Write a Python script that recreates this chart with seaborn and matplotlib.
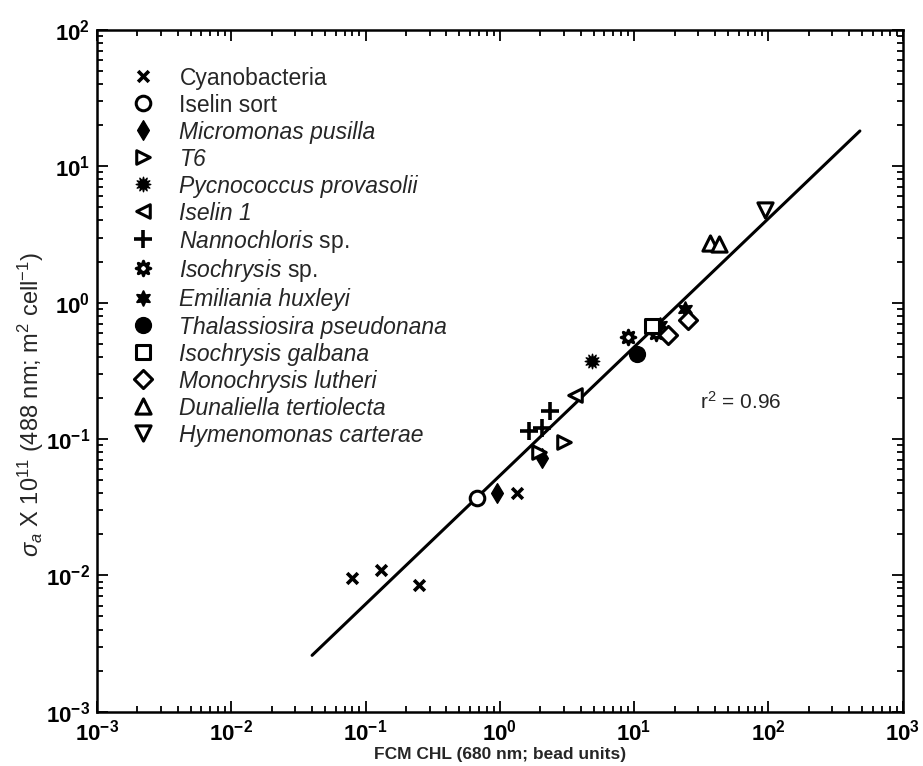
import numpy as np
import matplotlib
matplotlib.use("Agg")
import matplotlib.pyplot as plt
import matplotlib.ticker as mticker
import seaborn as sns

# ---- data ----
legend_labels = ["Cyanobacteria", "Iselin sort", "Micromonas pusilla", "T6",
                 "Pycnococcus provasolii", "Iselin 1",
                 r"$\mathit{Nannochloris}$ sp.", r"$\mathit{Isochrysis}$ sp.",
                 "Emiliania huxleyi", "Thalassiosira pseudonana",
                 "Isochrysis galbana", "Monochrysis lutheri",
                 "Dunaliella tertiolecta", "Hymenomonas carterae"]
italic_full = [False, False, True, True, True, True, False, False,
               True, True, True, True, True, True]

cyano_x = [0.08, 0.13, 0.25, 1.35]
cyano_y = [0.0095, 0.011, 0.0085, 0.040]
iselin_sort_x = [0.68]
iselin_sort_y = [0.037]
micromonas_x = [0.95, 2.05]
micromonas_y = [0.040, 0.072]
t6_x = [1.95, 3.0]
t6_y = [0.080, 0.095]
pycno_x = [4.9]
pycno_y = [0.37]
iselin1_x = [3.6]
iselin1_y = [0.21]
nanno_x = [1.65, 2.05, 2.35]
nanno_y = [0.115, 0.12, 0.16]
isochrysis_sp_x = [9.0, 14.5]
isochrysis_sp_y = [0.56, 0.60]
emiliania_x = [15.5, 24.0]
emiliania_y = [0.68, 0.90]
thalassiosira_x = [10.5]
thalassiosira_y = [0.42]
galbana_x = [13.5]
galbana_y = [0.67]
monochrysis_x = [18.0, 25.0]
monochrysis_y = [0.58, 0.75]
dunaliella_x = [37.0, 43.0]
dunaliella_y = [2.75, 2.7]
hymeno_x = [95.0]
hymeno_y = [4.8]

r2_text = "r$^2$ = 0.96"
fit_range = [0.04, 480.0]

xs = [cyano_x, iselin_sort_x, micromonas_x, t6_x, pycno_x, iselin1_x, nanno_x,
      isochrysis_sp_x, emiliania_x, thalassiosira_x, galbana_x, monochrysis_x,
      dunaliella_x, hymeno_x]
ys = [cyano_y, iselin_sort_y, micromonas_y, t6_y, pycno_y, iselin1_y, nanno_y,
      isochrysis_sp_y, emiliania_y, thalassiosira_y, galbana_y, monochrysis_y,
      dunaliella_y, hymeno_y]

# styles: (marker, facecolor, size, linewidth)
styles = [("x", "black", 60, 2.6), ("o", "white", 110, 2.2), ("d", "black", 100, 1.0),
          (">", "white", 95, 2.2), ((12, 1, 0), "black", 110, 1.0), ("<", "white", 95, 2.2),
          ("+", "black", 150, 2.6), ((8, 1, 0), "white", 110, 2.2), ((6, 1, 0), "black", 110, 1.5),
          ("o", "black", 130, 1.0), ("s", "white", 100, 2.2), ("D", "white", 85, 2.2),
          ("^", "white", 120, 2.2), ("v", "white", 120, 2.2)]

sns.set_theme(style="ticks")
plt.rcParams["font.family"] = ["Liberation Sans", "DejaVu Sans"]
plt.rcParams["mathtext.fontset"] = "custom"
plt.rcParams["mathtext.rm"] = "Liberation Sans"
plt.rcParams["mathtext.it"] = "Liberation Sans:italic"
plt.rcParams["mathtext.bf"] = "Liberation Sans:bold"
plt.rcParams["mathtext.sf"] = "Liberation Sans"

fig = plt.figure(figsize=(9.23, 7.66), dpi=100)
ax = fig.add_axes([0.105, 0.071, 0.873, 0.890])

for lab, x, y, (m, fc, s, lw) in zip(legend_labels, xs, ys, styles):
    if m in ("x", "+"):
        sns.scatterplot(x=x, y=y, marker=m, color="black", s=s, linewidth=lw, label=lab, ax=ax, zorder=3)
    else:
        sns.scatterplot(x=x, y=y, marker=m, facecolor=fc, edgecolor="black", s=s,
                        linewidth=lw, label=lab, ax=ax, zorder=3)

# regression line from log-log least squares fit
allx = np.log10(np.concatenate([np.asarray(v) for v in xs]))
ally = np.log10(np.concatenate([np.asarray(v) for v in ys]))
slope, icpt = np.polyfit(allx, ally, 1)
lx = np.logspace(np.log10(fit_range[0]), np.log10(fit_range[1]), 50)
sns.lineplot(x=lx, y=10 ** (icpt + slope * np.log10(lx)), color="black", lw=2.2, ax=ax, zorder=2)

ax.set_xscale("log")
ax.set_yscale("log")
ax.set_xlim(1e-3, 1e3)
ax.set_ylim(1e-3, 1e2)

fmt = mticker.FuncFormatter(lambda v, p: r"$\mathbf{10^{%d}}$" % int(round(np.log10(v))))
ax.xaxis.set_major_formatter(fmt)
ax.yaxis.set_major_formatter(fmt)
ax.xaxis.set_major_locator(mticker.LogLocator(base=10, numticks=10))
ax.yaxis.set_major_locator(mticker.LogLocator(base=10, numticks=10))
ax.xaxis.set_minor_locator(mticker.LogLocator(base=10, subs=np.arange(2, 10), numticks=20))
ax.yaxis.set_minor_locator(mticker.LogLocator(base=10, subs=np.arange(2, 10), numticks=20))
ax.xaxis.set_minor_formatter(mticker.NullFormatter())
ax.yaxis.set_minor_formatter(mticker.NullFormatter())
ax.xaxis.get_offset_text().set_visible(False)
ax.yaxis.get_offset_text().set_visible(False)
ax.tick_params(which="both", direction="in", top=True, right=True, width=1.3, colors="black")
ax.tick_params(which="major", length=8, labelsize=16, pad=5)
ax.tick_params(axis="x", which="major", pad=6)
ax.tick_params(which="minor", length=4)
for sp in ax.spines.values():
    sp.set_linewidth(1.8)
    sp.set_color("black")

ax.set_xlabel("FCM CHL (680 nm; bead units)", fontsize=12.5, fontweight="bold", va="top")
ax.xaxis.set_label_coords(0.5, -0.052)
ax.set_ylabel(r"$\sigma_a$ X 10$^{11}$ (488 nm; m$^2$ cell$^{-1}$)", fontsize=17)
ax.yaxis.set_label_coords(-0.063, 0.45)

ax.text(0.748, 0.455, r2_text, transform=ax.transAxes, fontsize=15, ha="left", va="center")

leg = ax.legend(loc="upper left", bbox_to_anchor=(0.02, 0.972), frameon=False, fontsize=16.5,
                handletextpad=1.0, labelspacing=0.11, borderaxespad=0.3, handlelength=1.2,
                handleheight=1.22)
for t, it in zip(leg.get_texts(), italic_full):
    if it:
        t.set_fontstyle("italic")

fig.savefig("out.png", dpi=100)
